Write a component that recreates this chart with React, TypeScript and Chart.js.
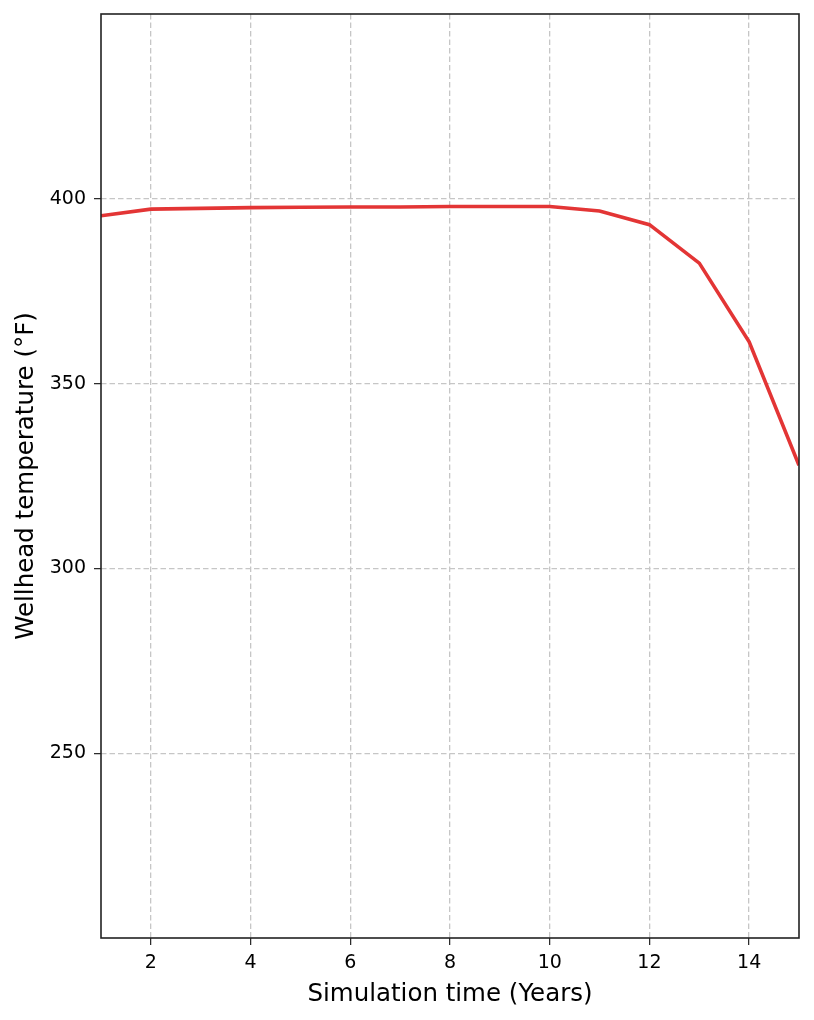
import React, { useEffect, useRef } from "react";
import { Chart, registerables } from "chart.js";

Chart.register(...registerables);

const years = [1, 2, 3, 4, 5, 6, 7, 8, 9, 10, 11, 12, 13, 14, 15];
const wellheadTemp = [395.4, 397.2, 397.4, 397.6, 397.7, 397.8, 397.8, 397.9, 397.9, 397.9, 396.7, 393.0, 382.6, 361.3, 327.9];
const xTicks = [2, 4, 6, 8, 10, 12, 14];
const yTicks = [250, 300, 350, 400];

const frame = {
  id: "frame",
  afterDraw(chart: any) {
    const { ctx, chartArea: a } = chart;
    ctx.save();
    ctx.strokeStyle = "#222";
    ctx.lineWidth = 1.6;
    ctx.strokeRect(a.left, a.top, a.right - a.left, a.bottom - a.top);
    ctx.restore();
  },
};

export default function App() {
  const ref = useRef<HTMLCanvasElement>(null);
  useEffect(() => {
    document.body.style.margin = "0";
    const font = "'DejaVu Sans', sans-serif";
    const gridOpts = {
      color: "#c6c6c6",
      lineWidth: 1.3,
      drawTicks: true,
      tickLength: 7,
      tickColor: "#222",
      tickBorderDash: [],
      tickWidth: 1.2,
    };
    const chart = new Chart(ref.current!, {
      type: "line",
      data: {
        datasets: [
          {
            data: years.map((x, i) => ({ x, y: wellheadTemp[i] })),
            borderColor: "#e33535",
            borderWidth: 3.6,
            pointRadius: 0,
            tension: 0,
            fill: false,
          },
        ],
      },
      options: {
        animation: false,
        responsive: false,
        layout: { padding: { top: 14, right: 15, left: 0, bottom: 0 } },
        plugins: { legend: { display: false }, tooltip: { enabled: false } },
        scales: {
          x: {
            type: "linear",
            min: 1,
            max: 15,
            afterBuildTicks: (axis: any) => {
              axis.ticks = xTicks.map((v) => ({ value: v }));
            },
            afterFit: (axis: any) => {
              axis.height = 82;
              axis.paddingLeft = 0;
              axis.paddingRight = 0;
            },
            border: { display: false, dash: [5.5, 3] },
            grid: gridOpts,
            ticks: {
              color: "#000",
              font: { family: font, size: 19 },
              padding: 7,
              maxRotation: 0,
            },
            title: {
              display: true,
              text: "Simulation time (Years)",
              color: "#000",
              font: { family: font, size: 24.5 },
              padding: { top: 0, bottom: 11 },
            },
          },
          y: {
            type: "linear",
            min: 200,
            max: 450,
            afterBuildTicks: (axis: any) => {
              axis.ticks = yTicks.map((v) => ({ value: v }));
            },
            afterFit: (axis: any) => {
              axis.width = 101;
              axis.paddingTop = 0;
              axis.paddingBottom = 0;
            },
            border: { display: false, dash: [5.5, 3] },
            grid: gridOpts,
            ticks: {
              color: "#000",
              font: { family: font, size: 19 },
              padding: 8,
            },
            title: {
              display: true,
              text: "Wellhead temperature (°F)",
              color: "#000",
              font: { family: font, size: 24.5 },
              padding: { top: 12, bottom: 0 },
            },
          },
        },
      },
      plugins: [frame],
    });
    return () => chart.destroy();
  }, []);
  return (
    <div style={{ width: 814, height: 1020, background: "#fff" }}>
      <canvas ref={ref} width={814} height={1020} style={{ display: "block" }} />
    </div>
  );
}
